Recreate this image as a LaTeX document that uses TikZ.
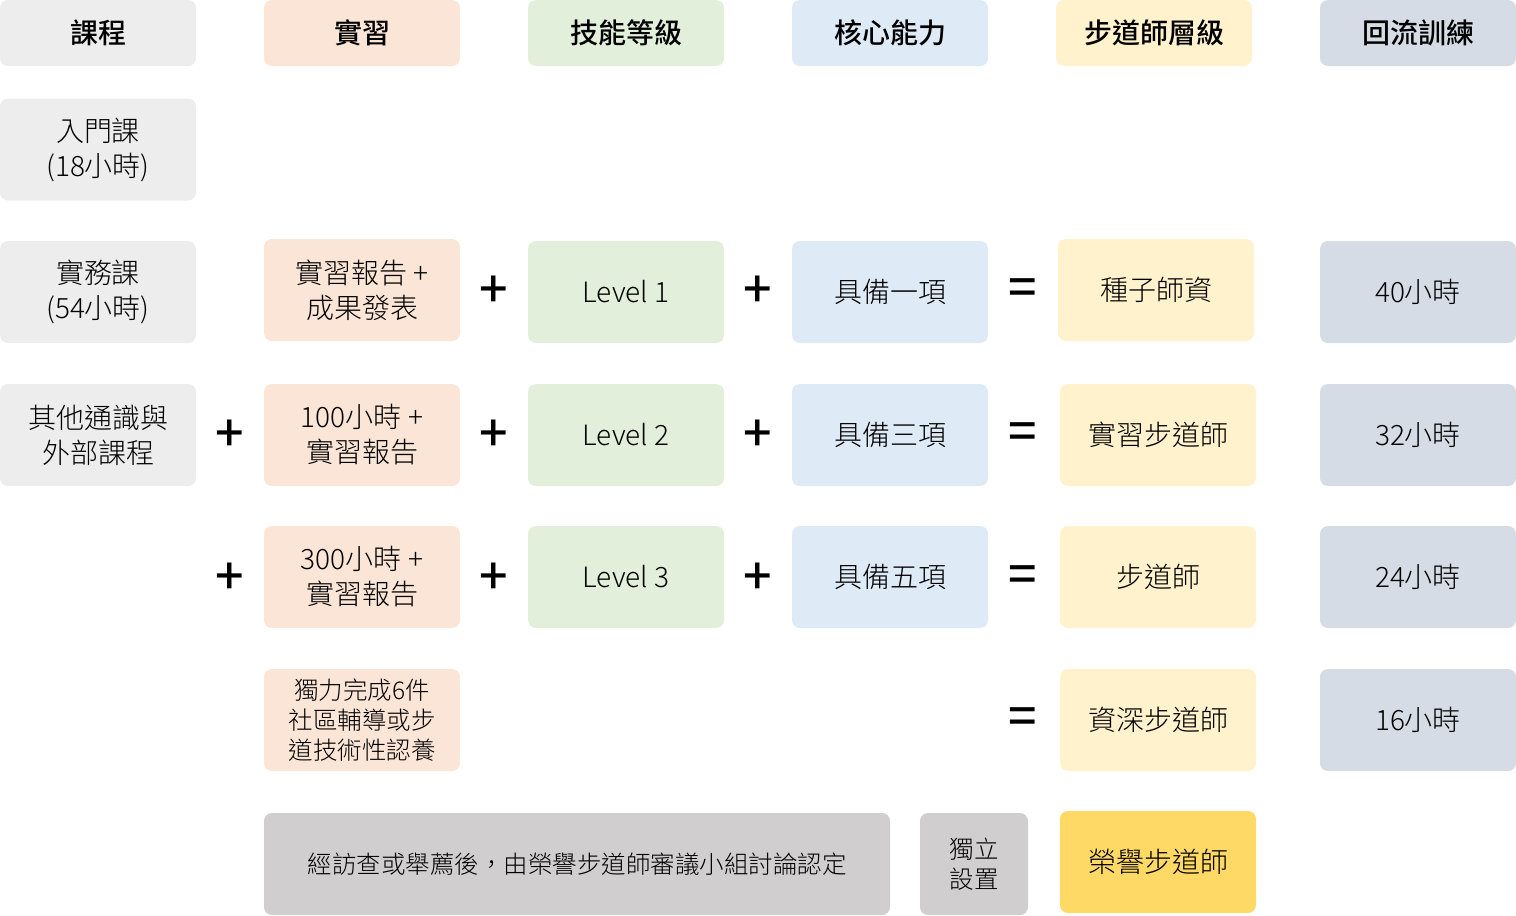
\documentclass[tikz,border=0pt]{standalone}
\usepackage{fontspec}
\setmainfont{Noto Sans CJK TC}[UprightFont=* Light,BoldFont=* Medium]
\newfontfamily\opfont{Noto Sans CJK TC}[UprightFont=* Medium]
\usetikzlibrary{positioning}
\definecolor{coursegray}{HTML}{EDEDED}
\definecolor{practpeach}{HTML}{FBE5D6}
\definecolor{skillgreen}{HTML}{E2EFDA}
\definecolor{coreblue}{HTML}{DEEAF6}
\definecolor{levelyellow}{HTML}{FFF2CC}
\definecolor{refreshslate}{HTML}{D6DCE5}
\definecolor{reviewgray}{HTML}{D0CECE}
\definecolor{honorgold}{HTML}{FFD966}
\tikzset{
    box/.style={rounded corners=8pt,minimum width=196pt,minimum height=102pt,inner sep=0pt,
        align=center,text=black,font=\fontsize{28}{35}\selectfont},
    head/.style={box,minimum height=66pt,font=\fontsize{28}{30}\selectfont\bfseries},
    small/.style={font=\fontsize{24.5}{30}\selectfont},
    op/.style={inner sep=0pt,yshift=-3pt,font=\opfont\fontsize{50}{50}\selectfont}
}

\begin{document}
\begin{tikzpicture}[x=1pt,y=-1pt]

    \useasboundingbox (0,0) rectangle (1516,916);

    % headers
    \node[head,fill=coursegray]   (hdr course)  at (98,33)   {課程};
    \node[head,fill=practpeach]   (hdr pract)   at (362,33)  {實習};
    \node[head,fill=skillgreen]   (hdr skill)   at (626,33)  {技能等級};
    \node[head,fill=coreblue]     (hdr core)    at (890,33)  {核心能力};
    \node[head,fill=levelyellow]  (hdr level)   at (1154,33) {步道師層級};
    \node[head,fill=refreshslate] (hdr refresh) at (1418,33) {回流訓練};

    % courses
    \node[box,fill=coursegray] (intro course) at (98,149.5) {入門課\\(18小時)};
    \node[box,fill=coursegray] (prac course)  at (98,292)   {實務課\\(54小時)};
    \node[box,fill=coursegray] (ext course)   at (98,435)   {其他通識與\\外部課程};

    % seed row
    \node[box,fill=practpeach]   (seed pract)   at (362,290)  {實習報告 +\\成果發表};
    \node[box,fill=skillgreen]   (seed skill)   at (626,292)  {Level 1};
    \node[box,fill=coreblue]     (seed core)    at (890,292)  {具備一項};
    \node[box,fill=levelyellow]  (seed level)   at (1156,290) {種子師資};
    \node[box,fill=refreshslate] (seed refresh) at (1418,292) {40小時};
    \node[op] (seed plus a) at (494,289)  {+};
    \node[op] (seed plus b) at (758,289)  {+};
    \node[op] (seed eq)     at (1023,289) {=};

    % intern row
    \node[box,fill=practpeach]   (intern pract)   at (362,435)  {100小時 +\\實習報告};
    \node[box,fill=skillgreen]   (intern skill)   at (626,435)  {Level 2};
    \node[box,fill=coreblue]     (intern core)    at (890,435)  {具備三項};
    \node[box,fill=levelyellow]  (intern level)   at (1158,435) {實習步道師};
    \node[box,fill=refreshslate] (intern refresh) at (1418,435) {32小時};
    \node[op] (intern plus o) at (230,433)  {+};
    \node[op] (intern plus a) at (494,433)  {+};
    \node[op] (intern plus b) at (758,433)  {+};
    \node[op] (intern eq)     at (1023,433) {=};

    % trail row
    \node[box,fill=practpeach]   (trail pract)   at (362,577)  {300小時 +\\實習報告};
    \node[box,fill=skillgreen]   (trail skill)   at (626,577)  {Level 3};
    \node[box,fill=coreblue]     (trail core)    at (890,577)  {具備五項};
    \node[box,fill=levelyellow]  (trail level)   at (1158,577) {步道師};
    \node[box,fill=refreshslate] (trail refresh) at (1418,577) {24小時};
    \node[op] (trail plus o) at (230,576)  {+};
    \node[op] (trail plus a) at (494,576)  {+};
    \node[op] (trail plus b) at (758,576)  {+};
    \node[op] (trail eq)     at (1023,576) {=};

    % senior row
    \node[box,small,fill=practpeach] (senior pract) at (362,720) {獨力完成6件\\社區輔導或步\\道技術性認養};
    \node[box,fill=levelyellow]  (senior level)   at (1158,720) {資深步道師};
    \node[box,fill=refreshslate] (senior refresh) at (1418,720) {16小時};
    \node[op] (senior eq) at (1023,718) {=};

    % honor row
    \node[box,small,fill=reviewgray,minimum width=626pt] (honor review) at (577,864)
        {經訪查或舉薦後，由榮譽步道師審議小組討論認定};
    \node[box,small,fill=reviewgray,minimum width=108pt] (honor indep) at (974,864) {獨立\\設置};
    \node[box,fill=honorgold] (honor level) at (1158,862) {榮譽步道師};

\end{tikzpicture}
\end{document}
